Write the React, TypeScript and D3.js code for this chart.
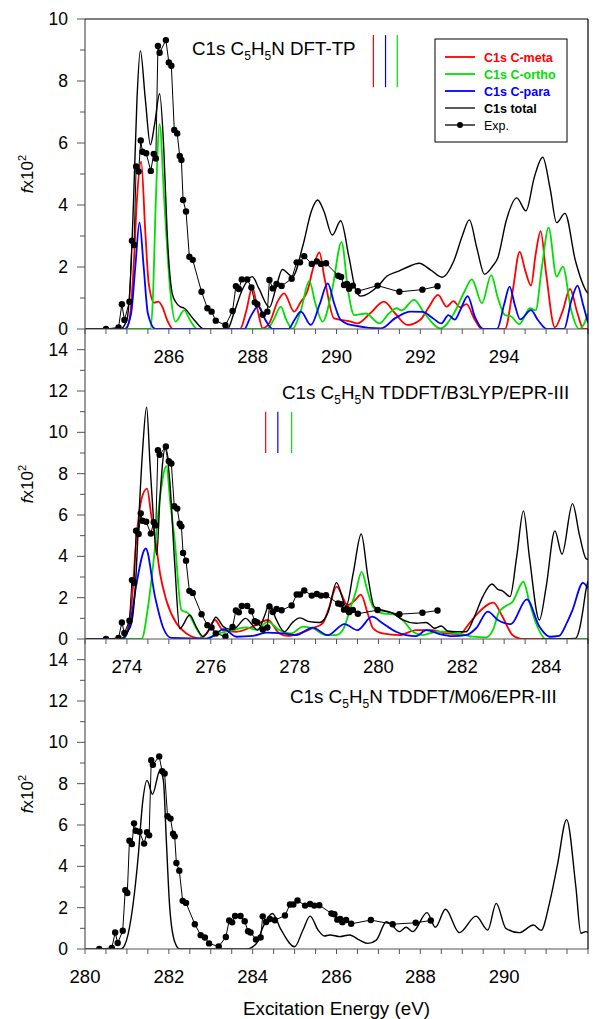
import React from "react";
import * as d3 from "d3";

type Pt = [number, number];

// experiment, energies as in the DFT-TP panel
const expPoints: Pt[] = [
  [284.5, 0], [284.8, 0.05], [284.88, 0.8], [284.94, 0.29], [285.06, 0.88], [285.12, 2.85],
  [285.17, 2.71], [285.22, 5.24], [285.28, 5.08], [285.33, 6.08], [285.37, 5.72], [285.46, 5.67],
  [285.57, 5.1], [285.64, 5.65], [285.69, 5.5], [285.74, 9.13], [285.78, 8.91], [285.93, 9.32],
  [286.0, 8.6], [286.06, 8.49], [286.13, 6.42], [286.2, 6.31], [286.26, 5.58], [286.3, 5.45],
  [286.34, 4.16], [286.41, 3.79], [286.49, 2.33], [286.57, 2.23], [286.78, 1.2], [286.92, 0.67],
  [287.02, 0.56], [287.12, 0.27], [287.35, 0.12], [287.52, 0.58], [287.6, 1.38], [287.67, 1.29],
  [287.74, 1.6], [287.87, 1.6], [287.97, 1.34], [288.05, 0.86], [288.11, 0.8], [288.24, 0.46],
  [288.35, 0.56], [288.4, 1.58], [288.48, 1.31], [288.57, 1.45], [288.69, 1.39], [288.93, 1.62],
  [289.05, 2.15], [289.13, 2.15], [289.23, 2.35], [289.41, 2.1], [289.53, 2.18], [289.63, 2.1],
  [289.75, 2.12], [290.04, 1.72], [290.11, 1.68], [290.18, 1.42], [290.25, 1.45], [290.3, 1.3],
  [290.39, 1.4], [290.51, 1.22], [290.98, 1.4], [291.5, 1.2], [292.05, 1.27], [292.41, 1.38],
];
const expShiftB3lyp = -11.0;
const expShiftM06 = -4.16;

// DFT-TP panel
const dftTotal: Pt[] = [
  [284, 0], [284.84, 0], [285.0, 0.3], [285.08, 1.5], [285.16, 4.2], [285.24, 7.4], [285.32, 8.98],
  [285.44, 7.4], [285.56, 5.94], [285.66, 6.6], [285.78, 7.59], [285.88, 5.8], [285.96, 3.1],
  [286.08, 1.15], [286.16, 0.88], [286.27, 0.72], [286.37, 0.67], [286.6, 0.3], [286.84, 0],
  [287.4, 0], [287.55, 0.5], [287.75, 1.26], [287.99, 1.69], [288.15, 1.3], [288.4, 0.7],
  [288.55, 1.3], [288.71, 1.92], [288.95, 1.69], [289.2, 2.7], [289.4, 3.8], [289.55, 4.16],
  [289.7, 3.8], [289.9, 3.03], [290.1, 3.49], [290.3, 2.3], [290.45, 1.3], [290.58, 1.06],
  [290.98, 1.37], [291.2, 1.7], [291.45, 1.85], [291.7, 2.0], [291.97, 2.12], [292.25, 1.9],
  [292.52, 1.67], [292.8, 2.2], [293.0, 3.0], [293.17, 3.52], [293.35, 2.6], [293.53, 1.77],
  [293.73, 2.04], [293.85, 2.3], [294.05, 3.5], [294.3, 4.23], [294.52, 3.81], [294.72, 4.9],
  [294.92, 5.54], [295.1, 4.5], [295.25, 3.43], [295.45, 3.73], [295.7, 2.2], [295.97, 1.2], [296, 1.15],
];
const dftMeta: Pt[] = [
  [284, 0], [284.98, 0], [285.08, 0.5], [285.16, 2.0], [285.24, 4.2], [285.34, 5.4], [285.44, 3.1],
  [285.52, 1.47], [285.65, 0.85], [285.75, 0.88], [285.85, 0.7], [285.96, 0.29], [286.1, 0],
  [287.7, 0], [287.85, 0.6], [287.99, 1.34], [288.12, 0.6], [288.24, 0.02], [288.4, 0.2],
  [288.6, 0.9], [288.75, 1.15], [288.99, 0.56], [289.15, 0.88], [289.3, 1.2], [289.45, 2.0],
  [289.59, 2.47], [289.72, 1.6], [289.94, 0.34], [290.34, 0.24], [290.5, 0.18], [290.8, 0.5],
  [291.13, 0.88], [291.4, 0.5], [291.69, 0.13], [292.0, 0.3], [292.2, 0.7], [292.42, 1.1],
  [292.63, 0.72], [292.79, 0.9], [292.95, 0.7], [293.1, 0.8], [293.3, 0.3], [293.47, 0],
  [294.02, 0], [294.2, 1.2], [294.37, 2.49], [294.5, 1.9], [294.64, 1.4], [294.75, 2.4],
  [294.87, 3.16], [295.0, 1.8], [295.21, 0.05], [295.4, 0.6], [295.57, 1.29], [295.75, 0.5],
  [295.89, 0], [296, 0],
];
const dftOrtho: Pt[] = [
  [284, 0], [285.56, 0], [285.62, 1.0], [285.69, 4.16], [285.78, 6.61], [285.89, 4.16],
  [286.04, 1.15], [286.16, 0.24], [286.37, 0.61], [286.5, 0.3], [286.68, 0], [288.35, 0],
  [288.5, 0.3], [288.67, 0.72], [288.8, 0.3], [288.95, 0], [289.15, 0.6], [289.35, 1.55],
  [289.5, 0.8], [289.67, 0.24], [289.9, 1.3], [290.12, 2.8], [290.28, 1.2], [290.42, 0.45],
  [290.7, 0.5], [291.02, 0.18], [291.25, 0.5], [291.43, 0.67], [291.55, 0.6], [291.85, 0.94],
  [292.1, 0.5], [292.48, 0.02], [292.8, 0.5], [293.05, 1.2], [293.23, 1.6], [293.47, 0.83],
  [293.69, 1.74], [293.85, 1.0], [294.02, 0.45], [294.15, 0.42], [294.36, 0.16], [294.62, 0.67],
  [294.75, 0.6], [294.9, 2.0], [295.06, 3.27], [295.25, 1.69], [295.4, 2.01], [295.6, 0.6],
  [295.79, 0], [295.9, 0.15], [296, 0.5],
];
const dftPara: Pt[] = [
  [284, 0], [284.95, 0], [285.1, 0.5], [285.2, 2.0], [285.3, 3.44], [285.4, 2.0], [285.5, 0.5],
  [285.68, 0], [287.8, 0], [287.95, 0.4], [288.14, 0.74], [288.3, 0.3], [288.48, 0], [288.85, 0],
  [289.0, 0.3], [289.15, 0.56], [289.39, 0.13], [289.6, 0.8], [289.79, 1.47], [289.95, 0.8],
  [290.09, 0.31], [290.34, 0.13], [291.06, 0.02], [291.4, 0.35], [291.77, 0.56], [292.05, 0.55],
  [292.3, 0.35], [292.5, 0.18], [292.67, 0.45], [292.82, 0.3], [292.95, 0.6], [293.13, 1.06],
  [293.3, 0.4], [293.5, 0], [293.83, 0], [294.0, 0.8], [294.13, 1.37], [294.25, 0.8],
  [294.38, 0.31], [294.64, 0.61], [294.8, 0.3], [295.02, 0], [295.43, 0], [295.6, 0.9],
  [295.75, 1.4], [295.88, 0.8], [296, 0.2],
];

// TDDFT/B3LYP panel
const b3lypTotal: Pt[] = [
  [273, 0], [273.83, 0], [274.0, 0.3], [274.11, 0.76], [274.2, 2.5], [274.27, 5.27], [274.37, 9.0],
  [274.47, 11.22], [274.55, 8.5], [274.63, 5.9], [274.71, 4.06], [274.79, 6.9], [274.91, 9.2],
  [275.02, 7.7], [275.14, 3.66], [275.26, 0.5], [275.5, 1.16], [275.65, 0.6], [275.82, 0.12],
  [276.0, 0.6], [276.12, 1.05], [276.3, 0.6], [276.45, 0.47], [276.6, 0.55], [276.83, 1.0],
  [277.12, 0.43], [277.28, 1.1], [277.4, 1.69], [277.55, 1.0], [277.76, 0.35], [277.95, 0.8],
  [278.13, 1.02], [278.35, 0.84], [278.6, 0.8], [278.8, 1.3], [279.0, 2.73], [279.23, 1.58],
  [279.4, 3.2], [279.59, 5.08], [279.75, 3.0], [279.9, 1.56], [280.1, 1.4], [280.35, 1.24],
  [280.58, 0.92], [280.9, 0.76], [281.14, 0.8], [281.34, 0.52], [281.5, 0.63], [281.65, 0.39],
  [281.85, 0.35], [282.09, 0.35], [282.29, 1.08], [282.49, 2.05], [282.71, 2.66], [282.85, 2.4],
  [282.96, 2.33], [283.14, 2.05], [283.3, 4.0], [283.46, 6.2], [283.6, 4.0], [283.84, 0.92],
  [284.0, 2.5], [284.21, 5.23], [284.38, 4.1], [284.63, 6.55], [284.8, 5.0], [284.95, 3.9], [285, 3.85],
];
// short black trace rising at the right edge of the B3LYP panel
const b3lypEdge: Pt[] = [
  [283.9, 0], [284.7, 0.03], [284.8, 0.5], [284.88, 1.4], [284.95, 2.37], [285, 2.8],
];
const b3lypMeta: Pt[] = [
  [273, 0], [273.9, 0], [274.1, 1.5], [274.23, 4.94], [274.35, 6.8], [274.48, 7.28], [274.58, 6.0],
  [274.67, 4.94], [274.79, 3.17], [274.94, 1.88], [275.18, 0.76], [275.42, 0.27], [275.74, 0.03],
  [275.9, 0.27], [276.1, 0.92], [276.3, 0.4], [276.61, 0.35], [277.0, 0.6], [277.36, 0.92],
  [277.64, 0.27], [277.84, 0.15], [278.12, 0.27], [278.4, 0.5], [278.67, 0.76], [278.83, 1.56],
  [279.0, 2.53], [279.27, 1.64], [279.45, 1.9], [279.58, 2.15], [279.75, 1.2], [279.87, 0.52],
  [280.1, 0.27], [280.5, 0.19], [280.9, 0.43], [281.3, 0.43], [281.61, 0.27], [281.93, 0.24],
  [282.17, 0.76], [282.37, 1.24], [282.74, 1.76], [282.96, 1.08], [283.2, 0.19], [283.44, 0], [285, 0],
];
const b3lypOrtho: Pt[] = [
  [273, 0], [274.35, 0], [274.5, 1.5], [274.63, 3.66], [274.79, 6.88], [274.94, 8.36],
  [275.04, 6.5], [275.14, 4.78], [275.3, 1.4], [275.46, 1.24], [275.66, 0.5], [275.85, 0],
  [276.21, 0.27], [276.53, 0.43], [276.83, 0.56], [277.1, 0.45], [277.36, 0.84], [277.64, 0.43],
  [277.92, 0.27], [278.2, 0.6], [278.43, 0.52], [278.75, 0.19], [278.99, 0.19], [279.15, 0.43],
  [279.35, 1.6], [279.46, 2.29], [279.6, 3.25], [279.73, 2.4], [279.87, 1.56], [280.1, 1.24],
  [280.34, 1.2], [280.58, 0.92], [280.82, 0.35], [281.06, 0.19], [281.37, 0.35], [281.61, 0.35],
  [281.85, 0.27], [282.09, 0.19], [282.25, 0.11], [282.57, 0.08], [282.73, 0.43], [282.88, 1.32],
  [283.04, 1.6], [283.2, 1.8], [283.46, 2.77], [283.6, 1.8], [283.76, 0.76], [284.0, 0], [285, 0],
];
const b3lypPara: Pt[] = [
  [273, 0], [273.9, 0], [274.1, 1.0], [274.23, 2.69], [274.45, 4.38], [274.67, 2.05],
  [274.87, 0.52], [275.06, 0.05], [275.9, 0.02], [276.06, 0.15], [276.31, 0.48], [276.61, 0.11],
  [277.0, 0.15], [277.32, 0.31], [277.72, 0.27], [278.04, 0.19], [278.43, 0.55], [278.79, 0.19],
  [279.19, 0.72], [279.5, 0.43], [279.85, 1.08], [280.1, 0.76], [280.42, 0.35], [280.66, 0.19],
  [280.9, 0.14], [281.14, 0.43], [281.46, 0.24], [281.77, 0.14], [282.09, 0.19], [282.33, 0.52],
  [282.61, 1.32], [282.85, 0.92], [283.16, 0.72], [283.54, 1.92], [283.84, 0.6], [284.08, 0.11],
  [284.31, 0.15], [284.5, 0.8], [284.63, 1.4], [284.88, 2.72], [285, 2.45],
];

// TDDFT/M06 panel
const m06Total: Pt[] = [
  [280, 0], [280.85, 0], [280.95, 0.2], [281.1, 1.5], [281.27, 4.5], [281.37, 7.0], [281.48, 8.16],
  [281.61, 7.49], [281.79, 8.65], [281.87, 8.16], [281.94, 5.27], [282.02, 2.05], [282.14, 0.35],
  [282.26, 0], [283.85, 0], [284.09, 0.27], [284.25, 1.08], [284.47, 1.72], [284.68, 0.92],
  [285.0, 0.11], [285.2, 0.92], [285.37, 1.59], [285.56, 0.92], [285.71, 0.63], [285.84, 0.68],
  [286.08, 0.6], [286.31, 0.68], [286.55, 0.43], [286.75, 0.27], [286.95, 0.43], [287.19, 1.32],
  [287.3, 1.2], [287.5, 0.84], [287.66, 1.05], [287.82, 0.84], [288.16, 1.76], [288.36, 1.05],
  [288.6, 1.92], [288.93, 0.79], [289.33, 1.59], [289.61, 0.92], [289.81, 2.21], [290.04, 1.0],
  [290.36, 0.79], [290.7, 1.16], [290.88, 0.9], [291.08, 2.21], [291.27, 4.06], [291.49, 6.26],
  [291.71, 3.01], [291.83, 0.76], [291.95, 0.84], [292, 0.8],
];

// ionisation markers: meta, para, ortho
const dftMarkers = [290.88, 291.17, 291.45];
const b3lypMarkers = [277.31, 277.6, 277.93];

const legendLabels = ["C1s C-meta", "C1s C-ortho", "C1s C-para", "C1s total", "Exp."];

const RED = "#ff0000";
const GREEN = "#00e000";
const BLUE = "#0000ff";
const FONT = "'Liberation Sans', Arial, Helvetica, sans-serif";

const LEFT = 85;
const RIGHT = 588;

const Panel = ({ top, bottom, xDomain, yMax, yLabelMax, curves, expShift, title, markers, markerY, xLabelFrom, showLegend }) => {
  const x = d3.scaleLinear().domain(xDomain).range([LEFT, RIGHT]);
  const y = d3.scaleLinear().domain([0, yMax]).range([bottom, top]);
  const smooth = d3.line<Pt>().x((d) => x(d[0])).y((d) => y(d[1])).curve(d3.curveMonotoneX);
  const straight = d3.line<Pt>().x((d) => x(d[0] + expShift)).y((d) => y(d[1]));
  const xTicks = d3.range(xDomain[0], xDomain[1] + 0.01, 0.5);
  const xLabels = d3.range(xLabelFrom, xDomain[1] + 0.01, 2).filter((v) => x(v) < RIGHT - 1);
  const yTicks = d3.range(0, yLabelMax + 1, 1);
  const clipId = `clip-${top}`;
  const cy = (top + bottom) / 2;

  return (
    <g>
      <defs>
        <clipPath id={clipId}>
          <rect x={LEFT} y={top - 1} width={RIGHT - LEFT} height={bottom - top + 1} />
        </clipPath>
      </defs>
      <g clipPath={`url(#${clipId})`}>
        {curves.map((c, i) => (
          <path key={i} d={smooth(c.data)} fill="none" stroke={c.color} strokeWidth={c.width} />
        ))}
        <path d={straight(expPoints)} fill="none" stroke="#000" strokeWidth={1} />
        {expPoints.map((d, i) => (
          <circle key={i} cx={x(d[0] + expShift)} cy={y(d[1])} r={3.2} fill="#000" />
        ))}
      </g>
      {markers &&
        markers.map((m, i) => (
          <line key={i} x1={x(m)} x2={x(m)} y1={y(markerY[0])} y2={y(markerY[1])}
            stroke={[RED, BLUE, GREEN][i]} strokeWidth={1.2} />
        ))}
      {/* x axis */}
      <line x1={LEFT} x2={RIGHT} y1={bottom} y2={bottom} stroke="#555" strokeWidth={1.2} />
      {xTicks.map((t) => (
        <line key={t} x1={x(t)} x2={x(t)} y1={bottom} y2={bottom + 5} stroke="#555" />
      ))}
      {xLabels.map((t) => (
        <text key={t} x={x(t)} y={bottom + 34} textAnchor="middle" fontSize={18.5} fontFamily={FONT}>{t}</text>
      ))}
      {/* y axis ticks */}
      {yTicks.map((t) => (
        <line key={t} x1={t % 2 === 0 ? LEFT - 8 : LEFT - 5} x2={LEFT} y1={y(t)} y2={y(t)} stroke="#555" />
      ))}
      {yTicks.filter((t) => t % 2 === 0).map((t) => (
        <text key={t} x={68} y={y(t) + 6} textAnchor="end" fontSize={17.5} fontFamily={FONT}>{t}</text>
      ))}
      <text transform={`translate(33,${cy}) rotate(-90)`} textAnchor="middle" fontSize={17} fontFamily={FONT}>
        <tspan fontStyle="italic">f</tspan>x10<tspan dy={-7} fontSize={11}>2</tspan>
      </text>
      <text x={title.x} y={title.y} fontSize={18.8} fontFamily={FONT}>
        C1s C<tspan dy={5} fontSize={12}>5</tspan><tspan dy={-5}>H</tspan>
        <tspan dy={5} fontSize={12}>5</tspan><tspan dy={-5}>N {title.method}</tspan>
      </text>
      {showLegend && (
        <g>
          <rect x={435} y={39} width={132} height={103} fill="#fff" stroke="#000" strokeWidth={1} />
          {legendLabels.map((lab, i) => {
            const ly = 57 + i * 17;
            const col = [RED, GREEN, BLUE, "#000", "#000"][i];
            return (
              <g key={lab}>
                <line x1={445} x2={475} y1={ly} y2={ly} stroke={col} strokeWidth={i < 3 ? 1.8 : 1.3} />
                {i === 4 && <circle cx={460} cy={ly} r={3} fill="#000" />}
                <text x={484} y={ly + 4.5} fontSize={12.5} fontFamily={FONT} fill={col}
                  fontWeight={i < 4 ? "bold" : "normal"}>{lab}</text>
              </g>
            );
          })}
        </g>
      )}
    </g>
  );
};

export default function App() {
  return (
    <svg width={605} height={1019} style={{ position: "absolute", left: 0, top: 0, background: "#fff" }}>
      <rect x={0} y={0} width={605} height={1019} fill="#fff" />
      <Panel top={19} bottom={329} xDomain={[284, 296]} yMax={10} yLabelMax={10}
        curves={[
          { data: dftMeta, color: RED, width: 1.8 },
          { data: dftOrtho, color: GREEN, width: 1.8 },
          { data: dftPara, color: BLUE, width: 1.8 },
          { data: dftTotal, color: "#000", width: 1.4 },
        ]}
        expShift={0} title={{ x: 192, y: 55, method: "DFT-TP" }}
        markers={dftMarkers} markerY={[7.8, 9.48]} xLabelFrom={286} showLegend />
      <Panel top={329} bottom={639} xDomain={[273, 285]} yMax={15} yLabelMax={14}
        curves={[
          { data: b3lypMeta, color: RED, width: 1.8 },
          { data: b3lypOrtho, color: GREEN, width: 1.8 },
          { data: b3lypPara, color: BLUE, width: 1.8 },
          { data: b3lypTotal, color: "#000", width: 1.4 },
          { data: b3lypEdge, color: "#000", width: 1.4 },
        ]}
        expShift={expShiftB3lyp} title={{ x: 282, y: 399, method: "TDDFT/B3LYP/EPR-III" }}
        markers={b3lypMarkers} markerY={[9, 11]} xLabelFrom={274} />
      <Panel top={639} bottom={949} xDomain={[280, 292]} yMax={15} yLabelMax={14}
        curves={[{ data: m06Total, color: "#000", width: 1.4 }]}
        expShift={expShiftM06} title={{ x: 290, y: 703, method: "TDDFT/M06/EPR-III" }}
        xLabelFrom={280} />
      {/* frame */}
      <line x1={LEFT} x2={LEFT} y1={19} y2={949} stroke="#555" strokeWidth={1.2} />
      <line x1={LEFT} x2={RIGHT} y1={19} y2={19} stroke="#000" strokeWidth={1.2} />
      <line x1={RIGHT} x2={RIGHT} y1={19} y2={949} stroke="#000" strokeWidth={1.2} />
      <text x={336.5} y={1015} textAnchor="middle" fontSize={18.8} fontFamily={FONT}>Excitation Energy (eV)</text>
    </svg>
  );
}
